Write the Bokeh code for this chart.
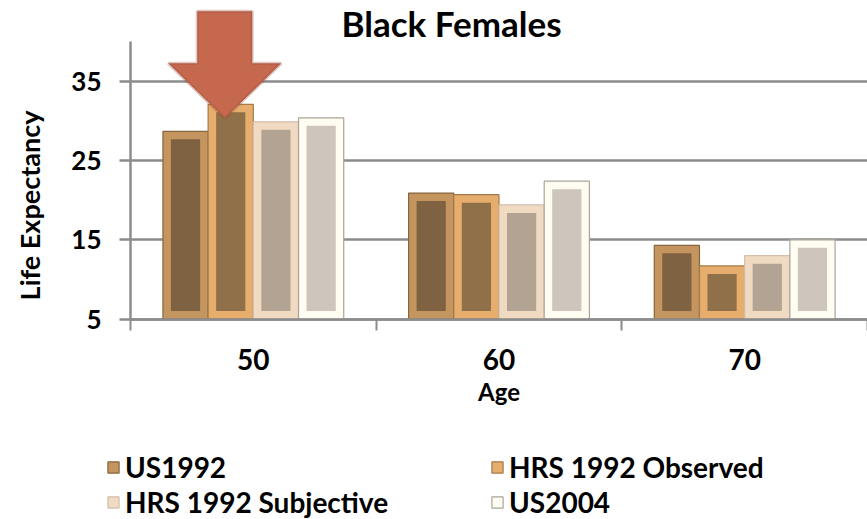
import math
from bokeh.plotting import figure
from bokeh.models import (ColumnDataSource, FixedTicker, Legend, LegendItem, Label,
                          PolyAnnotation, Range1d)
from bokeh.embed import file_html
from bokeh.resources import INLINE

# ---------------- data ----------------
ages = ["50", "60", "70"]
series_names = ["US1992", "HRS 1992 Observed", "HRS 1992 Subjective", "US2004"]
us1992 = [28.7, 20.9, 14.3]
hrs_obs = [32.1, 20.7, 11.7]
hrs_subj = [29.9, 19.4, 13.0]
us2004 = [30.4, 22.4, 15.0]
y_ticks = [5, 15, 25, 35]
series_values = [us1992, hrs_obs, hrs_subj, us2004]

# ---------------- style / layout ----------------
outer_colors = ["#c4955e", "#e6ad6c", "#f0dac2", "#fffcf2"]
inner_colors = ["#7e6242", "#8f7049", "#b3a392", "#cec5bc"]
line_colors = ["#86653f", "#a57a4a", "#d2bfac", "#aba39b"]
GRID = "#8c8c8c"
FONT = "Lato"

W, H = 867, 519
AX_LEFT = 130          # pixel column of the value axis
AX_BASE = 318.5        # pixel row of the baseline (value 5)
Y0, Y1 = 5, 40         # drawn value-axis extent
NCAT = len(ages)
px_x = (W - AX_LEFT) / NCAT
px_y = 7.92

p = figure(width=W, height=H, output_backend="svg", toolbar_location=None,
           x_range=Range1d(-AX_LEFT / px_x, NCAT),
           y_range=Range1d(Y0 - (H - AX_BASE) / px_y, Y0 + AX_BASE / px_y),
           min_border=0)
p.outline_line_color = None
p.background_fill_color = "white"
p.border_fill_color = "white"

bar_w = 0.184
inset_x = 8 / px_x
inset_y = 8 / px_y
renderers = []
bar_x = []
for k, vals in enumerate(series_values):
    xs = [i + 0.5 + (k - 1.5) * bar_w for i in range(NCAT)]
    bar_x.append(xs)
    src = ColumnDataSource(dict(x=xs, top=vals, itop=[v - inset_y for v in vals]))
    r = p.vbar(x="x", top="top", bottom=Y0, width=bar_w, source=src,
               fill_color=outer_colors[k], line_color=line_colors[k], line_width=1.2)
    p.vbar(x="x", top="itop", bottom=Y0 + inset_y, width=bar_w - 2 * inset_x,
           source=src, fill_color=inner_colors[k], line_color=None)
    renderers.append(r)

# ---------------- axes ----------------
xa = p.xaxis[0]
xa.fixed_location = Y0
xa.bounds = (0, NCAT)
xa.ticker = FixedTicker(ticks=[i + 0.5 for i in range(NCAT)],
                        minor_ticks=list(range(NCAT + 1)))
xa.major_label_overrides = {i + 0.5: a for i, a in enumerate(ages)}
xa.major_tick_out = 0
xa.major_tick_in = 0
xa.minor_tick_out = 11
xa.minor_tick_in = 0
xa.minor_tick_line_color = GRID
xa.minor_tick_line_width = 2
xa.axis_line_color = GRID
xa.axis_line_width = 2.5
xa.major_label_standoff = 19
xa.major_label_text_font = FONT
xa.major_label_text_font_style = "bold"
xa.major_label_text_font_size = "28px"
xa.major_label_text_color = "black"
xa.axis_label = "Age"
xa.axis_label_text_font = FONT
xa.axis_label_text_font_style = "bold"
xa.axis_label_text_font_size = "24px"
xa.axis_label_text_color = "black"
xa.axis_label_standoff = 3

ya = p.yaxis[0]
ya.fixed_location = 0
ya.bounds = (Y0, Y1)
ya.ticker = FixedTicker(ticks=y_ticks)
ya.major_tick_out = 11
ya.major_tick_in = 0
ya.minor_tick_out = 0
ya.minor_tick_in = 0
ya.major_tick_line_color = GRID
ya.major_tick_line_width = 2.5
ya.axis_line_color = GRID
ya.axis_line_width = 2.5
ya.major_label_standoff = 18
ya.major_label_text_font = FONT
ya.major_label_text_font_style = "bold"
ya.major_label_text_font_size = "26px"
ya.major_label_text_color = "black"

p.xgrid.visible = False
p.ygrid.cross_bounds = (0, NCAT)
p.ygrid.grid_line_color = GRID
p.ygrid.grid_line_width = 2.5

# value-axis title
p.add_layout(Label(x=29, y=H - 205, x_units="screen", y_units="screen",
                   text="Life Expectancy", angle=math.pi / 2, text_font=FONT,
                   text_font_style="bold", text_font_size="27px",
                   text_align="center", text_baseline="middle", text_color="black"))

# ---------------- title ----------------
p.add_layout(Label(x=451, y=H - 1, x_units="screen", y_units="screen",
                   text="Black Females", text_font=FONT, text_font_style="bold",
                   text_font_size="35px", text_align="center",
                   text_baseline="top", text_color="black"))

# ---------------- arrow (anchored to HRS 1992 Observed at age 50) ----------------
ak, ai = 1, 0
tip_x = bar_x[ak][ai] - 6 / px_x
tip_y = series_values[ak][ai] - 14 / px_y
head_hw, head_h, shaft_hw, shaft_h = 56.5, 55, 27.5, 52
ax_px = [0, -head_hw, -shaft_hw, -shaft_hw, shaft_hw, shaft_hw, head_hw]
ay_px = [0, head_h, head_h, head_h + shaft_h, head_h + shaft_h, head_h, head_h]
p.add_layout(PolyAnnotation(xs=[tip_x + d / px_x for d in ax_px],
                            ys=[tip_y + d / px_y for d in ay_px],
                            fill_color="#c6684d", fill_alpha=1.0,
                            line_color="#93483a", line_width=3))

# ---------------- legend ----------------
def make_legend(idx, loc):
    lg = Legend(items=[LegendItem(label=series_names[j], renderers=[renderers[j]]) for j in idx],
                location=loc, orientation="vertical")
    lg.label_text_font = FONT
    lg.label_text_font_style = "bold"
    lg.label_text_font_size = "28px"
    lg.label_text_color = "black"
    lg.glyph_width = 14
    lg.glyph_height = 14
    lg.label_standoff = 5
    lg.spacing = 1
    lg.padding = 0
    lg.margin = 0
    lg.border_line_color = None
    lg.background_fill_alpha = 0
    return lg

p.add_layout(make_legend([0, 2], (106, 0)))
p.add_layout(make_legend([1, 3], (490, 0)))

open("out.html", "w").write(file_html(p, INLINE))
